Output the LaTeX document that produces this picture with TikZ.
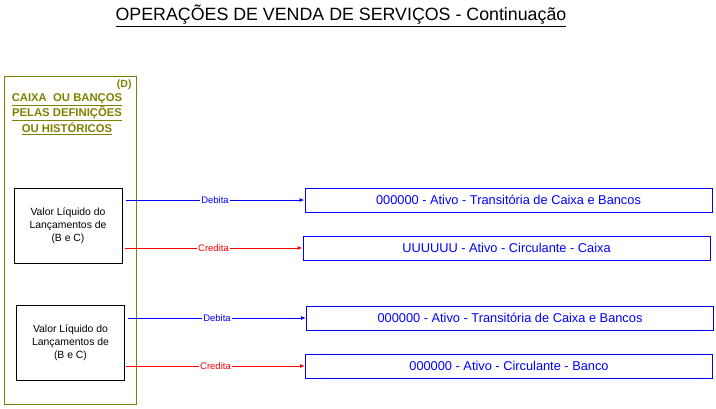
\documentclass[tikz,border=0pt]{standalone}
\usepackage{fontspec}
\setmainfont{Liberation Sans}
\usetikzlibrary{arrows.meta}
\definecolor{olv}{RGB}{128,128,0}
\definecolor{bl}{RGB}{0,0,255}
\definecolor{rd}{RGB}{255,0,0}
\begin{document}
\begin{tikzpicture}[x=1pt,y=-1pt,line width=1pt,
  srcbox/.style={draw=black,minimum width=108pt,minimum height=75pt,align=center,font=\fontsize{10.4}{13}\selectfont,inner sep=0pt},
  accbox/.style={draw=bl,text=bl,minimum width=407pt,minimum height=24pt,inner sep=0pt,font=\fontsize{12.8}{14}\selectfont},
  deb/.style={draw=bl,-{Latex[length=5pt,width=4pt]}},
  cred/.style={draw=rd,-{Latex[length=5pt,width=4pt]}},
  lbl/.style={fill=white,inner sep=1pt,font=\fontsize{9.5}{11}\selectfont}]
\useasboundingbox (0,0) rectangle (716,408);
\node (title) at (341,16) {\fontsize{17.8}{20}\selectfont\underline{OPERAÇÕES DE VENDA DE SERVIÇOS - Continuação}};
\node[draw=olv,minimum width=132pt,minimum height=328pt,inner sep=0pt] (frame) at (70,240) {};
\node[text=olv,font=\bfseries\fontsize{10.5}{12}\selectfont,anchor=east,inner sep=0pt] (d) at (132,85) {(D)};
\node[text=olv,font=\bfseries\fontsize{11.3}{14}\selectfont,align=center,inner sep=0pt] (head) at (67,114) {\underline{CAIXA\ \ OU BANÇOS}\\\underline{PELAS DEFINIÇÕES}\\\underline{OU HISTÓRICOS}};
\node[srcbox] (s1) at (68,225.5) {Valor Líquido do\\Lançamentos de\\(B e C)};
\node[srcbox] (s2) at (70.5,343) {Valor Líquido do\\Lançamentos de\\(B e C)};
\node[accbox] (a1) at (508.5,200) {000000 - Ativo - Transitória de Caixa e Bancos};
\node[accbox] (a2) at (506.5,248) {UUUUUU - Ativo - Circulante - Caixa};
\node[accbox] (b1) at (510,318) {000000 - Ativo - Transitória de Caixa e Bancos};
\node[accbox] (b2) at (509,366) {000000 - Ativo - Circulante - Banco};
\draw[deb] (s1.east|-a1.west) ++(3,0) -- node[lbl,text=bl]{Debita} (a1.west);
\draw[cred] (s1.east|-a2.west) ++(2,0) -- node[lbl,text=rd]{Credita} (a2.west);
\draw[deb] (s2.east|-b1.west) ++(3,0) -- node[lbl,text=bl]{Debita} (b1.west);
\draw[cred] (s2.east|-b2.west) ++(1,0) -- node[lbl,text=rd]{Credita} (b2.west);
\end{tikzpicture}
\end{document}
